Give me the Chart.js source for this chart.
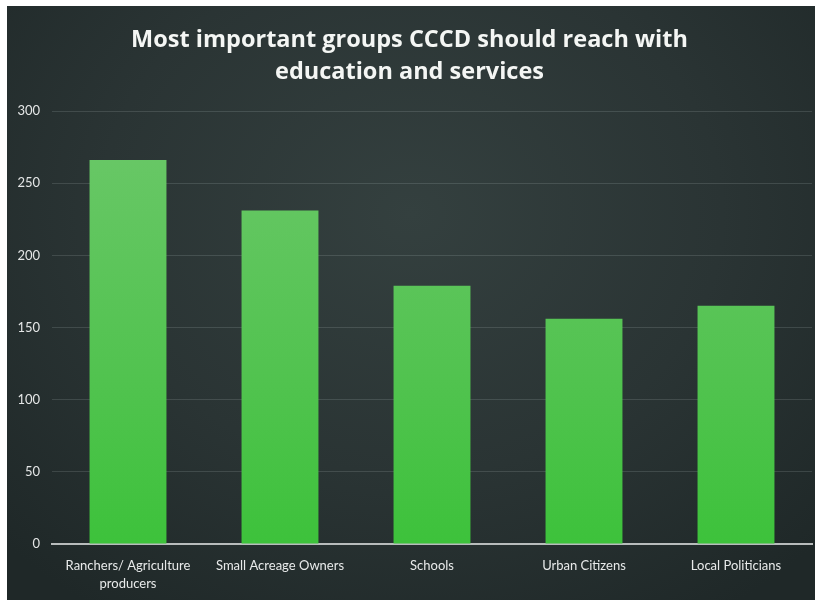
<!DOCTYPE html>
<html>
<head>
<meta charset="utf-8">
<script src="https://cdn.jsdelivr.net/npm/chart.js@4.4.0/dist/chart.umd.min.js"></script>
<style>
  html, body { margin: 0; padding: 0; background: #ffffff; }
  #wrap {
    position: absolute; left: 7px; top: 6px; width: 808px; height: 594px;
    background: radial-gradient(ellipse 70% 80% at 50% 35%, #34403f 0%, #2a3434 55%, #1f2828 100%);
  }
  canvas { display: block; }
</style>
</head>
<body>
<div id="wrap"><canvas id="grupos-chart" width="808" height="594"></canvas></div>
<script>
// Grupos y número de respuestas
const grupos = [['Ranchers/ Agriculture', 'producers'], 'Small Acreage Owners', 'Schools', 'Urban Citizens', 'Local Politicians'];
const respuestas = [266, 231, 179, 156, 165];
const tituloLineas = ['Most important groups CCCD should reach with', 'education and services'];
const ticksY = [0, 50, 100, 150, 200, 250, 300];

// Degradado verde de las barras (más claro arriba)
function colorBarra(context) {
    const chart = context.chart;
    const area = chart.chartArea;
    if (!area) return '#55c455';
    const g = chart.ctx.createLinearGradient(0, area.top, 0, area.bottom);
    g.addColorStop(0, '#6cc86a');
    g.addColorStop(0.6, '#52c350');
    g.addColorStop(1, '#3dc23b');
    return g;
}

const ctx = document.getElementById('grupos-chart').getContext('2d');
new Chart(ctx, {
    type: 'bar',
    data: {
        labels: grupos,
        datasets: [{
            label: 'Respuestas',
            data: respuestas,
            backgroundColor: colorBarra,
            borderWidth: 0,
            categoryPercentage: 1.0,
            barPercentage: 0.506
        }]
    },
    options: {
        responsive: false,
        animation: false,
        layout: { padding: { left: 0, right: 3, top: 0, bottom: 0 } },
        plugins: {
            legend: { display: false },
            tooltip: { enabled: false },
            title: {
                display: true,
                text: tituloLineas,
                color: '#f4f6f4',
                font: { family: 'Open Sans', size: 23.5, weight: 'bold', lineHeight: '32px' },
                padding: { top: 18, bottom: 23 }
            }
        },
        scales: {
            x: {
                afterFit: axis => { axis.height = 56; },
                grid: { display: false, drawTicks: false },
                border: { display: true, color: '#b8bcbc', width: 2 },
                ticks: {
                    color: '#e8eaea',
                    font: { family: 'Lato', size: 13, lineHeight: 1.45 },
                    padding: 12,
                    maxRotation: 0,
                    autoSkip: false
                }
            },
            y: {
                min: 0,
                max: 300,
                afterFit: axis => { axis.width = 45; },
                afterBuildTicks: axis => { axis.ticks = ticksY.map(v => ({ value: v })); },
                grid: { color: 'rgba(200,210,210,0.16)', lineWidth: 1, drawTicks: false },
                border: { display: false },
                ticks: {
                    color: '#e4e6e6',
                    font: { family: 'Lato', size: 13 },
                    padding: 12
                }
            }
        }
    }
});
</script>
</body>
</html>
